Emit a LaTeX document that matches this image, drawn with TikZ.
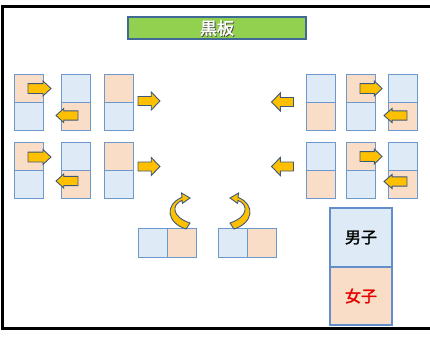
\documentclass[tikz,border=0pt]{standalone}
\usepackage{fontspec}
\newfontfamily\cjk[FakeBold=1.8]{Noto Sans CJK JP}
\definecolor{boyfill}{RGB}{222,235,247}
\definecolor{girlfill}{RGB}{250,221,198}
\definecolor{deskline}{RGB}{108,152,206}
\definecolor{legline}{RGB}{98,143,204}
\definecolor{gold}{RGB}{255,192,0}
\definecolor{arrline}{RGB}{62,88,122}
\definecolor{boardfill}{RGB}{146,208,80}
\definecolor{boardline}{RGB}{65,105,150}
\tikzset{
  half/.style={draw=deskline, line width=1pt, minimum width=29pt, minimum height=28pt, inner sep=0pt, outer sep=0pt, anchor=north west},
  boy/.style={half, fill=boyfill},
  girl/.style={half, fill=girlfill},
  sq/.style={minimum height=29pt},
  arrowfill/.style={fill=gold, draw=arrline, line width=0.9pt, line join=miter},
  blockarr/.pic={\path[arrowfill] (-0.5,-0.25) -- (0.1,-0.25) -- (0.1,-0.5) -- (0.5,0) -- (0.1,0.5) -- (0.1,0.25) -- (-0.5,0.25) -- cycle;},
  deskarr/.pic={\path[arrowfill] (-0.5,-0.33) -- (0.15,-0.33) -- (0.15,-0.5) -- (0.5,0) -- (0.15,0.5) -- (0.15,0.33) -- (-0.5,0.33) -- cycle;},
  board/.style={draw=boardline, fill=boardfill, line width=1.2pt, minimum width=178pt, minimum height=22pt, inner sep=0pt},
  legend/.style={half, line width=2pt, draw=legline, minimum width=62pt, minimum height=59pt, font=\cjk\fontsize{16}{16}\selectfont},
}
\begin{document}
\begin{tikzpicture}[x=1pt,y=-1pt]
\useasboundingbox (0,0) rectangle (430,338);
\fill[white] (0,0) rectangle (430,338);
% frame
\draw[line width=3pt] (431,6.5) -- (2.5,6.5) -- (2.5,328.5) -- (431,328.5);
% blackboard
\node[board] (board) at (217,28) {};
\node[text=black!75, font=\cjk\fontsize{17}{17}\selectfont] (boardshadow) at (217.8,28.8) {黒板};
\node[text=white, font=\cjk\fontsize{17}{17}\selectfont] (boardtext) at (217,28) {黒板};
% left group, row 1
\node[girl] (l1a) at (14,74) {};  \node[boy] (l1b) at (14,102) {};
\node[boy] (l2a) at (61,74) {};   \node[girl] (l2b) at (61,102) {};
\node[girl] (l3a) at (104,74) {}; \node[boy] (l3b) at (104,102) {};
% left group, row 2
\node[girl] (l4a) at (14,142) {};  \node[boy] (l4b) at (14,170) {};
\node[boy] (l5a) at (61,142) {};   \node[girl] (l5b) at (61,170) {};
\node[girl] (l6a) at (104,142) {}; \node[boy] (l6b) at (104,170) {};
% right group, row 1
\node[boy] (r1a) at (306,74) {};  \node[girl] (r1b) at (306,102) {};
\node[girl] (r2a) at (346,74) {}; \node[boy] (r2b) at (346,102) {};
\node[boy] (r3a) at (388,74) {};  \node[girl] (r3b) at (388,102) {};
% right group, row 2
\node[boy] (r4a) at (306,142) {};  \node[girl] (r4b) at (306,170) {};
\node[girl] (r5a) at (346,142) {}; \node[boy] (r5b) at (346,170) {};
\node[boy] (r6a) at (388,142) {};  \node[girl] (r6b) at (388,170) {};
% bottom pairs
\node[boy, sq] (b1a) at (138,228) {};  \node[girl, sq] (b1b) at (167,228) {};
\node[boy, sq] (b2a) at (218,228) {};  \node[girl, sq] (b2b) at (247,228) {};
% straight block arrows
\pic[xscale=23, yscale=15] at (39.5,88.5) {deskarr};
\pic[xscale=-22, yscale=14] at (67,115.5) {deskarr};
\pic[xscale=22, yscale=18] at (149,101) {blockarr};
\pic[xscale=23, yscale=15] at (39.5,157) {deskarr};
\pic[xscale=-22, yscale=14] at (67,181) {deskarr};
\pic[xscale=22, yscale=18] at (149,166.5) {blockarr};
\pic[xscale=-22, yscale=18] at (282.5,102) {blockarr};
\pic[xscale=22, yscale=15] at (371,88.5) {deskarr};
\pic[xscale=-23, yscale=14] at (395.5,115.5) {deskarr};
\pic[xscale=-22, yscale=18] at (282.5,166.5) {blockarr};
\pic[xscale=22, yscale=15] at (371,156.5) {deskarr};
\pic[xscale=-23, yscale=14] at (395.5,181.5) {deskarr};
% curved arrows
\path[arrowfill] (186,229) .. controls (167,223) and (164,205) .. (182,197.3) -- (181.5,193) -- (190,198) -- (182.5,203.3) -- (182,200.3) .. controls (171,205) and (172,217) .. (190,223) -- cycle;
\begin{scope}[xshift=420pt, xscale=-1]
\path[arrowfill] (186,229) .. controls (167,223) and (164,205) .. (182,197.3) -- (181.5,193) -- (190,198) -- (182.5,203.3) -- (182,200.3) .. controls (171,205) and (172,217) .. (190,223) -- cycle;
\end{scope}
% legend
\node[legend, fill=boyfill] (legboy) at (330,208) {男子};
\node[legend, fill=girlfill, minimum height=58pt, text=red!90!black] (leggirl) at (330,267) {女子};
\end{tikzpicture}
\end{document}
